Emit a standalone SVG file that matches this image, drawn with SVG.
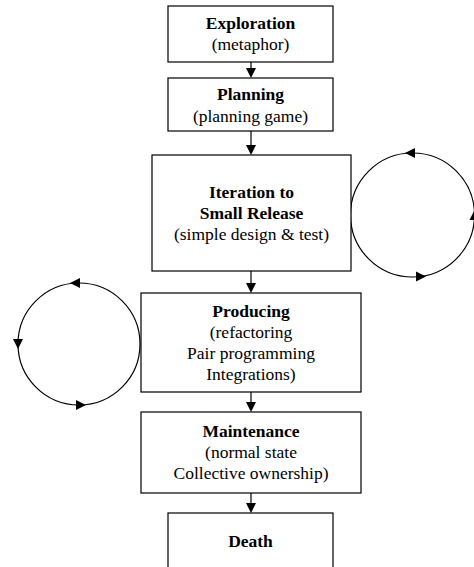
<svg xmlns="http://www.w3.org/2000/svg" xmlns:xlink="http://www.w3.org/1999/xlink" width="474" height="567" viewBox="0 0 474 567" font-family="Liberation Serif, DejaVu Serif, serif">
<style>
.box{fill:#fff;stroke:#000;stroke-width:1.2}
text{font-family:"Liberation Serif",serif;font-size:17.5px;text-anchor:middle;fill:#000}
.b{font-weight:bold}
.ln{stroke:#000;stroke-width:1.2;fill:none}
.cir{stroke:#000;stroke-width:1.2;fill:none}
</style>
<defs>
<path id="ah" d="M0,0 L-10,-5 L-10,5 Z" fill="#000"/>
</defs>
<rect width="474" height="567" fill="#fff"/>
<g id="connectors">
<line class="ln" x1="251" y1="62" x2="251" y2="70"/>
<use xlink:href="#ah" transform="translate(251,78) rotate(90)"/>
<line class="ln" x1="251" y1="131" x2="251" y2="147"/>
<use xlink:href="#ah" transform="translate(251,155) rotate(90)"/>
<line class="ln" x1="251" y1="271" x2="251" y2="285"/>
<use xlink:href="#ah" transform="translate(251,293) rotate(90)"/>
<line class="ln" x1="251" y1="392" x2="251" y2="404"/>
<use xlink:href="#ah" transform="translate(251,412) rotate(90)"/>
<line class="ln" x1="251" y1="493" x2="251" y2="505"/>
<use xlink:href="#ah" transform="translate(251,513) rotate(90)"/>
</g>
<g id="loop-right">
<circle class="cir" cx="412.5" cy="215" r="62"/>
<use xlink:href="#ah" transform="translate(405,153) rotate(180)"/>
<use xlink:href="#ah" transform="translate(474.5,210) rotate(-90)"/>
<use xlink:href="#ah" transform="translate(426,276.5)"/>
</g>
<g id="loop-left">
<circle class="cir" cx="79" cy="344" r="61"/>
<use xlink:href="#ah" transform="translate(70,283) rotate(180)"/>
<use xlink:href="#ah" transform="translate(18,349) rotate(90)"/>
<use xlink:href="#ah" transform="translate(86,405)"/>
</g>
<g id="exploration">
<rect class="box" x="168" y="6" width="165" height="56"/>
<text class="b" x="250.5" y="29">Exploration</text>
<text x="250.5" y="50">(metaphor)</text>
</g>
<g id="planning">
<rect class="box" x="168" y="78" width="165" height="53"/>
<text class="b" x="250.5" y="100">Planning</text>
<text x="250.5" y="122">(planning game)</text>
</g>
<g id="iteration">
<rect class="box" x="152" y="155" width="199" height="116"/>
<text class="b" x="251.5" y="198">Iteration to</text>
<text class="b" x="251.5" y="219">Small Release</text>
<text x="251.5" y="240">(simple design &amp; test)</text>
</g>
<g id="producing">
<rect class="box" x="141" y="293" width="220" height="99"/>
<text class="b" x="251" y="317">Producing</text>
<text x="251" y="338">(refactoring</text>
<text x="251" y="359">Pair programming</text>
<text x="251" y="380">Integrations)</text>
</g>
<g id="maintenance">
<rect class="box" x="141" y="412" width="220" height="81"/>
<text class="b" x="251" y="437">Maintenance</text>
<text x="251" y="458">(normal state</text>
<text x="251" y="479">Collective ownership)</text>
</g>
<g id="death">
<rect class="box" x="168" y="513" width="165" height="70"/>
<text class="b" x="250.5" y="547">Death</text>
</g>
</svg>
